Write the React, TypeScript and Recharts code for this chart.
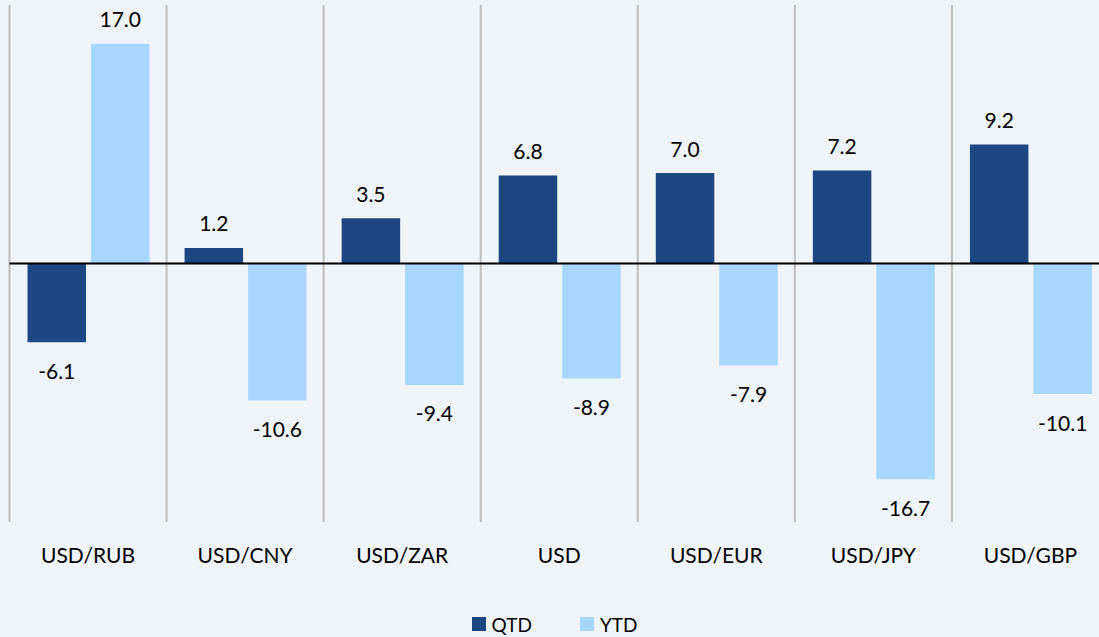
import React from "react";
import {
  BarChart,
  Bar,
  XAxis,
  YAxis,
  CartesianGrid,
  ReferenceLine,
  Legend,
  LabelList,
} from "recharts";

const categories = ["USD/RUB", "USD/CNY", "USD/ZAR", "USD", "USD/EUR", "USD/JPY", "USD/GBP"];
const qtdValues = [-6.1, 1.2, 3.5, 6.8, 7.0, 7.2, 9.2];
const ytdValues = [17.0, -10.6, -9.4, -8.9, -7.9, -16.7, -10.1];
const seriesNames = ["QTD", "YTD"];

const data = categories.map((name, i) => ({
  name,
  QTD: qtdValues[i],
  YTD: ytdValues[i],
}));

const QTD_COLOR = "#1D4782";
const YTD_COLOR = "#A7D6FE";
const BG = "#EFF4F9";
const FONT = "Lato, 'Open Sans', sans-serif";

const ValueLabel = (props: any) => {
  const { x, y, width, height, value } = props;
  const v = Number(value);
  const cx = Number(x) + Number(width) / 2;
  const top = Math.min(Number(y), Number(y) + Number(height));
  const bottom = Math.max(Number(y), Number(y) + Number(height));
  const cy = v >= 0 ? top - 25 : bottom + 28;
  return (
    <text
      x={cx}
      y={cy}
      textAnchor="middle"
      dominantBaseline="central"
      fill="#000"
      fontSize={21}
      fontFamily={FONT}
    >
      {v.toFixed(1)}
    </text>
  );
};

const CategoryTick = (props: any) => {
  const { x, y, payload } = props;
  return (
    <text
      x={x}
      y={y + 24}
      textAnchor="middle"
      dominantBaseline="central"
      fill="#000"
      fontSize={21}
      fontFamily={FONT}
    >
      {payload.value}
    </text>
  );
};

const LegendContent = () => {
  const colors = [QTD_COLOR, YTD_COLOR];
  return (
    <div
      style={{
        display: "flex",
        justifyContent: "center",
        alignItems: "center",
        gap: 48,
        height: 24,
        fontFamily: FONT,
        fontSize: 19,
        color: "#000",
      }}
    >
      {seriesNames.map((n, i) => (
        <div key={n} style={{ display: "flex", alignItems: "center" }}>
          <span
            style={{
              display: "inline-block",
              width: 14,
              height: 14,
              background: colors[i],
              marginRight: 6,
            }}
          />
          <span>{n}</span>
        </div>
      ))}
    </div>
  );
};

export default function App() {
  return (
    <div
      style={{
        position: "absolute",
        top: 0,
        left: 0,
        width: 1099,
        height: 637,
        overflow: "hidden",
        background: BG,
      }}
    >
      <BarChart
        width={1109}
        height={637}
        data={data}
        margin={{ top: 5, right: 0, left: 9.5, bottom: 0 }}
        barGap={5}
        barSize={58.5}
      >
        <CartesianGrid
          horizontal={false}
          vertical={true}
          stroke="#BDBDBD"
          strokeWidth={2}
          verticalCoordinatesGenerator={(args: any) => {
            const off = args.offset;
            return Array.from({ length: categories.length + 1 }, (_, i) => off.left + (i * off.width) / categories.length);
          }}
        />
        <XAxis
          dataKey="name"
          axisLine={false}
          tickLine={false}
          height={91}
          tick={<CategoryTick />}
          interval={0}
        />
        <YAxis hide domain={[-20, 20]} />
        <ReferenceLine y={0} stroke="#000" strokeWidth={2} />
        <Legend
          verticalAlign="bottom"
          content={<LegendContent />}
          wrapperStyle={{ bottom: 1, left: 0, width: 1109 }}
        />
        <Bar dataKey="QTD" fill={QTD_COLOR} isAnimationActive={false}>
          <LabelList dataKey="QTD" content={<ValueLabel />} />
        </Bar>
        <Bar dataKey="YTD" fill={YTD_COLOR} isAnimationActive={false}>
          <LabelList dataKey="YTD" content={<ValueLabel />} />
        </Bar>
      </BarChart>
    </div>
  );
}
